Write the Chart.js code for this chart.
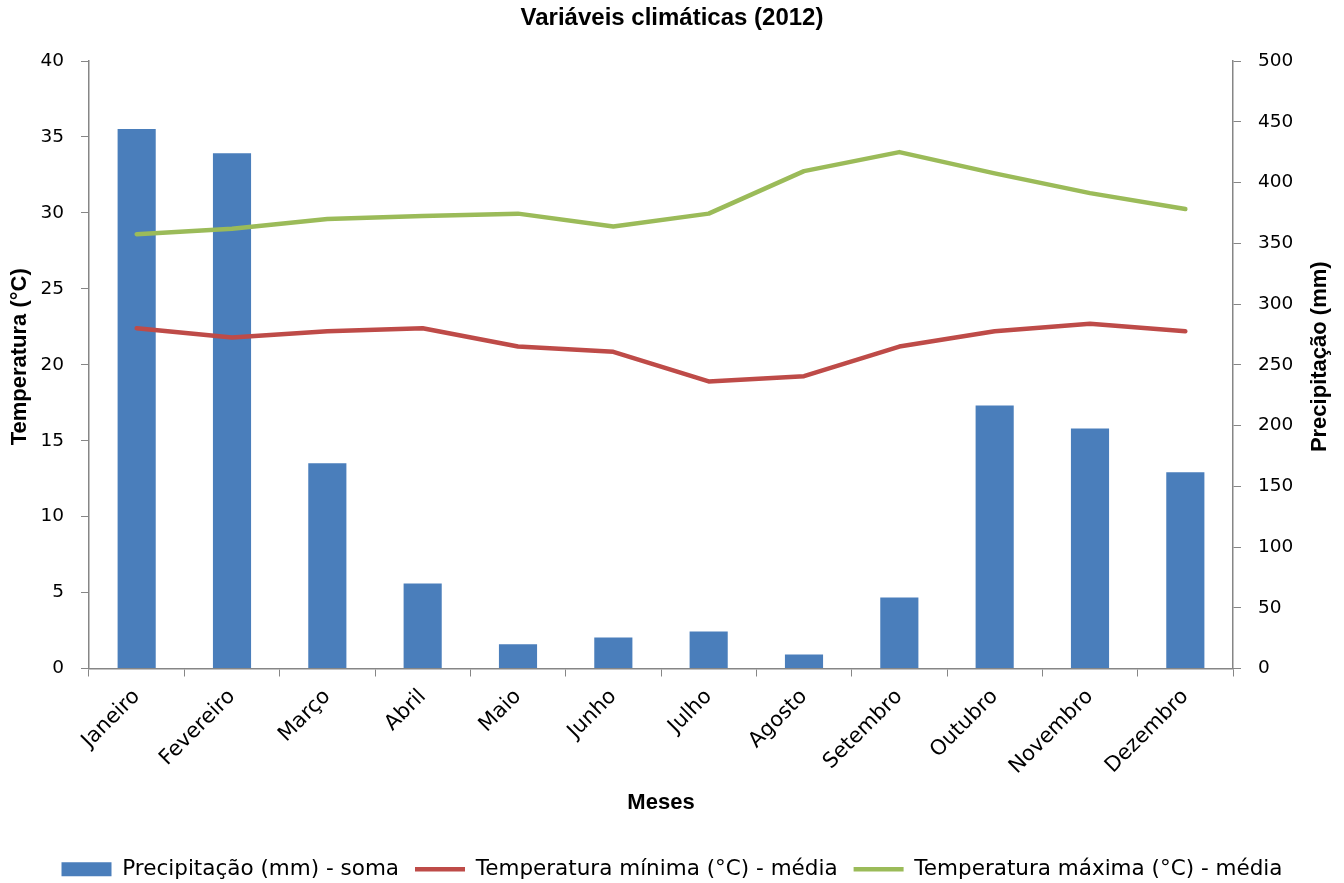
<!DOCTYPE html>
<html lang="pt">
<head>
<meta charset="utf-8">
<title>Variáveis climáticas (2012)</title>
<script src="https://cdn.jsdelivr.net/npm/chart.js@4.4.1/dist/chart.umd.min.js"></script>
<style>
  html, body { margin: 0; padding: 0; background: #ffffff; }
  #wrap { width: 1344px; height: 883px; }
</style>
</head>
<body>
<div id="wrap"><canvas id="chart" width="1344" height="883"></canvas></div>
<script>
// Meses do ano
const meses = ['Janeiro', 'Fevereiro', 'Março', 'Abril', 'Maio', 'Junho',
               'Julho', 'Agosto', 'Setembro', 'Outubro', 'Novembro', 'Dezembro'];

// Precipitação mensal acumulada (mm)
const precipitacao = [444, 424, 169, 70, 20, 25.5, 30.5, 11.5, 58.5, 216.5, 197.5, 161.5];

// Temperatura mínima média (°C)
const tempMinima = [22.4, 21.8, 22.2, 22.4, 21.2, 20.85, 18.9, 19.25, 21.2, 22.2, 22.7, 22.2];

// Temperatura máxima média (°C)
const tempMaxima = [28.6, 28.95, 29.6, 29.8, 29.95, 29.1, 29.95, 32.75, 34.0, 32.6, 31.3, 30.25];

// Escalas
const tempTicks = { min: 0, max: 40, step: 5 };
const precTicks = { min: 0, max: 500, step: 50 };

const eixoCor = '#868686';
const fonteTick = { family: '"DejaVu Sans", Verdana, sans-serif', size: 18.5 };
const fonteTitulo = { family: '"Liberation Sans", Arial, sans-serif', size: 22, weight: 'bold' };

// Títulos verticais dos eixos, escritos de baixo para cima
const titulosVerticais = {
  id: 'titulosVerticais',
  afterDraw(chart) {
    const { ctx, chartArea } = chart;
    const cy = (chartArea.top + chartArea.bottom) / 2 - 8;
    ctx.save();
    ctx.font = 'bold 22px "Liberation Sans", Arial, sans-serif';
    ctx.fillStyle = '#000000';
    ctx.textAlign = 'center';
    ctx.textBaseline = 'middle';
    [[20, 'Temperatura (°C)'], [chart.width - 24, 'Precipitação (mm)']].forEach(([x, txt]) => {
      ctx.save();
      ctx.translate(x, cy);
      ctx.rotate(-Math.PI / 2);
      ctx.fillText(txt, 0, 0);
      ctx.restore();
    });
    ctx.restore();
  }
};

new Chart(document.getElementById('chart'), {
  type: 'bar',
  data: {
    labels: meses,
    datasets: [
      {
        type: 'bar',
        label: 'Precipitação (mm) - soma',
        data: precipitacao,
        yAxisID: 'y1',
        backgroundColor: '#4a7ebb',
        borderWidth: 0,
        barPercentage: 0.4,
        categoryPercentage: 1,
        pointStyle: 'rect',
        order: 3
      },
      {
        type: 'line',
        label: 'Temperatura mínima (°C) - média',
        data: tempMinima,
        yAxisID: 'y',
        borderColor: '#be4b48',
        backgroundColor: '#be4b48',
        borderWidth: 4.5,
        pointRadius: 0,
        pointStyle: 'line',
        tension: 0,
        borderJoinStyle: 'round',
        borderCapStyle: 'round',
        order: 2
      },
      {
        type: 'line',
        label: 'Temperatura máxima (°C) - média',
        data: tempMaxima,
        yAxisID: 'y',
        borderColor: '#9bbb59',
        backgroundColor: '#9bbb59',
        borderWidth: 4.5,
        pointRadius: 0,
        pointStyle: 'line',
        tension: 0,
        borderJoinStyle: 'round',
        borderCapStyle: 'round',
        order: 1
      }
    ]
  },
  options: {
    responsive: false,
    animation: false,
    events: [],
    layout: { padding: { left: 0, right: 0, top: 0, bottom: -7 } },
    plugins: {
      title: {
        display: true,
        text: 'Variáveis climáticas (2012)',
        color: '#000000',
        font: { family: '"Liberation Sans", Arial, sans-serif', size: 24, weight: 'bold' },
        padding: { top: 4, bottom: 28.2 }
      },
      legend: {
        display: true,
        position: 'bottom',
        labels: {
          color: '#000000',
          font: { family: '"DejaVu Sans", Verdana, sans-serif', size: 21.5 },
          usePointStyle: true,
          pointStyleWidth: 50,
          boxWidth: 44,
          boxHeight: 14,
          padding: 16,
          sort: (a, b) => a.datasetIndex - b.datasetIndex
        }
      },
      tooltip: { enabled: false }
    },
    scales: {
      x: {
        grid: { display: true, drawOnChartArea: false, drawTicks: true, tickLength: 8, color: eixoCor, offset: true },
        border: { display: true, color: eixoCor, width: 1.5 },
        ticks: { color: '#000000', font: { ...fonteTick, size: 21 }, minRotation: 45, maxRotation: 45, autoSkip: false, padding: 8 },
        title: { display: true, text: 'Meses', color: '#000000', font: fonteTitulo, padding: { top: 0, bottom: 26 } },
        afterFit(scale) { scale.height = 174; }
      },
      y: {
        position: 'left',
        min: tempTicks.min,
        max: tempTicks.max,
        grid: { display: true, drawOnChartArea: false, drawTicks: true, tickLength: 8, color: eixoCor },
        border: { display: true, color: eixoCor, width: 1.5 },
        ticks: { stepSize: tempTicks.step, color: '#000000', font: fonteTick, padding: 17 },
        afterFit(scale) { scale.width = 89; }
      },
      y1: {
        position: 'right',
        min: precTicks.min,
        max: precTicks.max,
        grid: { display: true, drawOnChartArea: false, drawTicks: true, tickLength: 8, color: eixoCor },
        border: { display: true, color: eixoCor, width: 1.5 },
        ticks: { stepSize: precTicks.step, color: '#000000', font: fonteTick, padding: 17 },
        afterFit(scale) { scale.width = 111; }
      }
    }
  },
  plugins: [titulosVerticais]
});
</script>
</body>
</html>
